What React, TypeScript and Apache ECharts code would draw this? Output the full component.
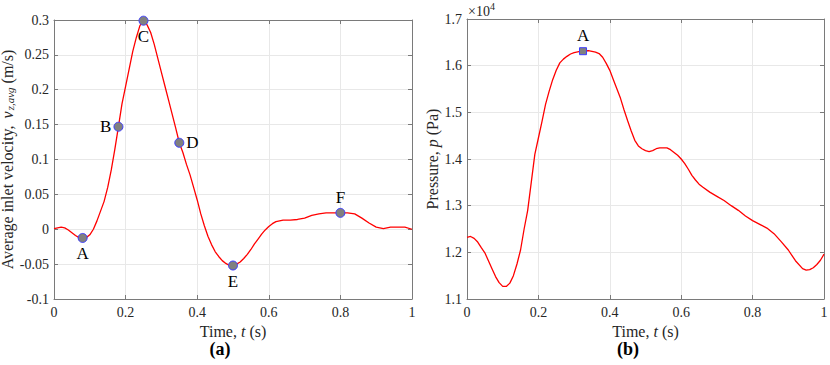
import React, { useEffect, useRef } from "react";
import * as echarts from "echarts";

// ---- Panel (a): average inlet velocity ----
const velTime = [
  0, 0.01, 0.02, 0.03, 0.04, 0.05, 0.06, 0.07, 0.08, 0.09,
  0.1, 0.11, 0.12, 0.13, 0.14, 0.15, 0.16, 0.17, 0.18, 0.19,
  0.2, 0.21, 0.22, 0.23, 0.24, 0.25, 0.26, 0.27, 0.28, 0.29,
  0.3, 0.31, 0.32, 0.33, 0.34, 0.35, 0.36, 0.37, 0.38, 0.39,
  0.4, 0.41, 0.42, 0.43, 0.44, 0.45, 0.46, 0.47, 0.48, 0.49,
  0.5, 0.51, 0.52, 0.53, 0.54, 0.55, 0.56, 0.57, 0.58, 0.59,
  0.6, 0.61, 0.62, 0.64, 0.66, 0.68, 0.7, 0.72, 0.74, 0.76,
  0.78, 0.8, 0.82, 0.84, 0.86, 0.88, 0.9, 0.92, 0.94, 0.96,
  0.98, 1.0,
];
const velValue = [
  0.001, 0.002, 0.003, 0.002, -0.001, -0.005, -0.009, -0.012, -0.0125, -0.012,
  -0.008, 0.0, 0.012, 0.026, 0.04, 0.06, 0.085, 0.115, 0.147, 0.18,
  0.205, 0.23, 0.255, 0.275, 0.292, 0.299, 0.293, 0.282, 0.265, 0.245,
  0.225, 0.205, 0.185, 0.165, 0.145, 0.124, 0.11, 0.093, 0.078, 0.06,
  0.042, 0.022, 0.005, -0.01, -0.022, -0.032, -0.039, -0.045, -0.049, -0.052,
  -0.052, -0.05, -0.047, -0.042, -0.036, -0.029, -0.021, -0.014, -0.007, -0.001,
  0.004, 0.008, 0.011, 0.013, 0.013, 0.014, 0.016, 0.02, 0.022, 0.0235,
  0.0235, 0.0235, 0.0235, 0.022, 0.016, 0.009, 0.003, 0.001, 0.003, 0.003,
  0.003, 0.0,
];
const velMarkTime = [0.08, 0.18, 0.25, 0.35, 0.5, 0.8];
const velMarkValue = [-0.0125, 0.147, 0.299, 0.124, -0.052, 0.0235];
const velMarkName = ["A", "B", "C", "D", "E", "F"];

// ---- Panel (b): pressure (Pa) ----
const presTime = [
  0, 0.01, 0.02, 0.03, 0.04, 0.05, 0.06, 0.07, 0.08, 0.09,
  0.1, 0.11, 0.12, 0.13, 0.14, 0.15, 0.16, 0.17, 0.18, 0.19,
  0.2, 0.21, 0.22, 0.23, 0.24, 0.25, 0.26, 0.27, 0.28, 0.29,
  0.3, 0.32, 0.34, 0.36, 0.37, 0.38, 0.39, 0.4, 0.41, 0.42,
  0.43, 0.44, 0.45, 0.46, 0.47, 0.48, 0.49, 0.5, 0.51, 0.52,
  0.53, 0.54, 0.56, 0.57, 0.58, 0.59, 0.6, 0.61, 0.62, 0.63,
  0.64, 0.65, 0.66, 0.68, 0.7, 0.72, 0.74, 0.76, 0.78, 0.8,
  0.82, 0.84, 0.86, 0.88, 0.9, 0.92, 0.94, 0.95, 0.96, 0.97,
  0.98, 0.99, 1.0,
];
const presValue = [
  12320, 12340, 12300, 12220, 12100, 11990, 11820, 11650, 11480, 11350,
  11270, 11270, 11340, 11500, 11750, 12050, 12500, 12900, 13500, 14100,
  14450, 14800, 15170, 15450, 15700, 15900, 16060, 16140, 16200, 16250,
  16280, 16310, 16320, 16290, 16260, 16180, 16050, 15900, 15700, 15500,
  15300, 15050, 14820, 14600, 14400, 14280, 14220, 14180, 14160, 14180,
  14220, 14240, 14240, 14200, 14140, 14080, 14000, 13900, 13780, 13650,
  13550, 13460, 13400, 13290, 13200, 13110, 13000, 12900, 12780, 12680,
  12600, 12520, 12400, 12230, 12050, 11820, 11650, 11620, 11630, 11670,
  11740, 11830, 11960,
];
const presMarkTime = [0.325];
const presMarkValue = [16310];
const presMarkName = ["A"];

const xTicks = [0, 0.2, 0.4, 0.6, 0.8, 1];

const SERIF = "'Liberation Serif', 'Times New Roman', serif";
const AX = "#7a7a7a";
const GRID = "#e8e8e8";
const TXT = "#262626";

const velLabelPos = ["bottom", "left", "bottom", "right", "bottom", "top"];

function xAx(gridIndex: number, top: boolean) {
  return {
    type: "value",
    gridIndex,
    position: top ? "top" : "bottom",
    min: xTicks[0],
    max: xTicks[xTicks.length - 1],
    interval: 0.2,
    axisLine: { show: true, onZero: false, lineStyle: { color: AX, width: 1 } },
    axisTick: { show: true, inside: true, length: 4, lineStyle: { color: AX } },
    axisLabel: {
      show: !top,
      color: TXT,
      fontFamily: SERIF,
      fontSize: 14,
      margin: 6,
      formatter: (v: number) => String(parseFloat(v.toFixed(2))),
    },
    splitLine: { show: !top, lineStyle: { color: GRID, width: 1 } },
    name: top ? "" : "{n|Time, }{i|t}{n| (s)}",
    nameLocation: "middle",
    nameGap: 22,
    nameTextStyle: {
      rich: {
        n: { fontFamily: SERIF, fontSize: 16, color: TXT },
        i: { fontFamily: SERIF, fontSize: 16, color: TXT, fontStyle: "italic" },
      },
    },
  };
}

export default function App() {
  const ref = useRef<HTMLDivElement>(null);
  useEffect(() => {
    if (!ref.current) return;
    const chart = echarts.init(ref.current, undefined, { renderer: "svg" });

    const velLine = velTime.map((t, i) => [t, velValue[i]]);
    const presLine = presTime.map((t, i) => [t, presValue[i]]);
    const velMarks = velMarkTime.map((t, i) => ({
      value: [t, velMarkValue[i]],
      name: velMarkName[i],
      label: { position: velLabelPos[i] },
    }));
    const presMarks = presMarkTime.map((t, i) => ({
      value: [t, presMarkValue[i]],
      name: presMarkName[i],
      label: { position: "top" },
    }));

    const yCommon = {
      type: "value",
      axisLine: { show: true, onZero: false, lineStyle: { color: AX, width: 1 } },
      axisTick: { show: true, inside: true, length: 4, lineStyle: { color: AX } },
    };

    const option: any = {
      animation: false,
      backgroundColor: "#ffffff",
      grid: [
        { left: 54, top: 20, width: 358, height: 279, containLabel: false, outerBoundsMode: "none" },
        { left: 467, top: 19, width: 357, height: 280, containLabel: false, outerBoundsMode: "none" },
      ],
      xAxis: [xAx(0, false), xAx(0, true), xAx(1, false), xAx(1, true)],
      yAxis: [
        {
          ...yCommon,
          gridIndex: 0,
          position: "left",
          min: -0.1,
          max: 0.3,
          interval: 0.05,
          axisLabel: {
            color: TXT,
            fontFamily: SERIF,
            fontSize: 14,
            margin: 5,
            formatter: (v: number) => String(parseFloat(v.toFixed(2))),
          },
          splitLine: { show: true, lineStyle: { color: GRID, width: 1 } },
          name: "{n|Average inlet velocity, }{i|v}{s|z,avg}{n| (m/s)}",
          nameLocation: "middle",
          nameGap: 32,
          nameTextStyle: {
            rich: {
              n: { fontFamily: SERIF, fontSize: 16, color: TXT },
              i: { fontFamily: SERIF, fontSize: 16, color: TXT, fontStyle: "italic", padding: [0, 1, 0, 3] },
              s: { fontFamily: SERIF, fontSize: 11, color: TXT, fontStyle: "italic", padding: [6, 0, 0, 0] },
            },
          },
        },
        {
          ...yCommon,
          gridIndex: 0,
          position: "right",
          min: -0.1,
          max: 0.3,
          interval: 0.05,
          axisLabel: { show: false },
          splitLine: { show: false },
        },
        {
          ...yCommon,
          gridIndex: 1,
          position: "left",
          min: 11000,
          max: 17000,
          interval: 1000,
          axisLabel: {
            color: TXT,
            fontFamily: SERIF,
            fontSize: 14,
            margin: 5,
            formatter: (v: number) => (v / 10000).toFixed(1),
          },
          splitLine: { show: true, lineStyle: { color: GRID, width: 1 } },
          name: "{n|Pressure, }{i|p}{n| (Pa)}",
          nameLocation: "middle",
          nameGap: 26,
          nameTextStyle: {
            rich: {
              n: { fontFamily: SERIF, fontSize: 16, color: TXT },
              i: { fontFamily: SERIF, fontSize: 16, color: TXT, fontStyle: "italic" },
            },
          },
        },
        {
          ...yCommon,
          gridIndex: 1,
          position: "right",
          min: 11000,
          max: 17000,
          interval: 1000,
          axisLabel: { show: false },
          splitLine: { show: false },
        },
      ],
      graphic: [
        {
          type: "text",
          x: 220,
          y: 349,
          style: {
            text: "(a)",
            font: `bold 18px ${SERIF}`,
            fill: "#000",
            align: "center",
            verticalAlign: "middle",
          },
        },
        {
          type: "text",
          x: 628,
          y: 349,
          style: {
            text: "(b)",
            font: `bold 18px ${SERIF}`,
            fill: "#000",
            align: "center",
            verticalAlign: "middle",
          },
        },
        {
          type: "text",
          x: 468,
          y: 11,
          style: {
            text: "{a|×10}{b|4}",
            verticalAlign: "middle",
            rich: {
              a: { fontFamily: SERIF, fontSize: 14, fill: TXT },
              b: { fontFamily: SERIF, fontSize: 10, fill: TXT, padding: [0, 0, 9, 0] },
            },
          },
        },
      ],
      series: [
        {
          type: "line",
          xAxisIndex: 0,
          yAxisIndex: 0,
          data: velLine,
          showSymbol: false,
          symbol: "none",
          lineStyle: { color: "#ff0000", width: 1.3 },
          z: 2,
        },
        {
          type: "scatter",
          xAxisIndex: 0,
          yAxisIndex: 0,
          data: velMarks,
          symbol: "circle",
          symbolSize: 9,
          itemStyle: { color: "#808080", borderColor: "#3d3dff", borderWidth: 1, opacity: 1 },
          label: {
            show: true,
            formatter: (p: any) => p.name,
            fontFamily: SERIF,
            fontSize: 17,
            color: "#000",
            distance: 2,
          },
          z: 3,
        },
        {
          type: "line",
          xAxisIndex: 2,
          yAxisIndex: 2,
          data: presLine,
          showSymbol: false,
          symbol: "none",
          lineStyle: { color: "#ff0000", width: 1.3 },
          z: 2,
        },
        {
          type: "scatter",
          xAxisIndex: 2,
          yAxisIndex: 2,
          data: presMarks,
          symbol: "rect",
          symbolSize: 7,
          itemStyle: { color: "#808080", borderColor: "#3d3dff", borderWidth: 1, opacity: 1 },
          label: {
            show: true,
            formatter: (p: any) => p.name,
            fontFamily: SERIF,
            fontSize: 17,
            color: "#000",
            distance: 3,
          },
          z: 3,
        },
      ],
    };
    chart.setOption(option);
    return () => chart.dispose();
  }, []);

  return (
    <div
      ref={ref}
      style={{ position: "absolute", left: 0, top: 0, width: 830, height: 365 }}
    />
  );
}
